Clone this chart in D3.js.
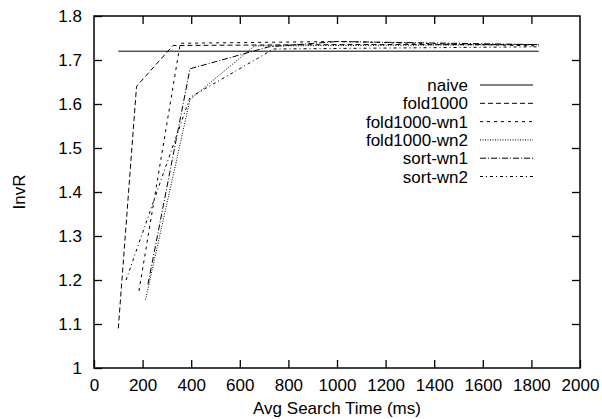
<!DOCTYPE html>
<html>
<head>
<meta charset="utf-8">
<script src="https://cdn.jsdelivr.net/npm/d3@7/dist/d3.min.js"></script>
<style>
  body { margin: 0; background: #fff; }
  text { font-family: "Liberation Sans", Arial, sans-serif; fill: #000; }
</style>
</head>
<body>
<div id="plotSect"></div>
<script>
// data (x = avg search time in ms, y = InvR)
let seriesNames = ["naive", "fold1000", "fold1000-wn1", "fold1000-wn2", "sort-wn1", "sort-wn2"];
let naive = [[100, 1.72], [1830, 1.72]];
let fold1000 = [[100, 1.09], [175, 1.64], [325, 1.733], [1000, 1.735], [1830, 1.735]];
let fold1000wn1 = [[185, 1.175], [355, 1.738], [1000, 1.742], [1830, 1.732]];
let fold1000wn2 = [[212, 1.155], [395, 1.61], [660, 1.732], [1830, 1.735]];
let sortwn1 = [[222, 1.19], [395, 1.68], [720, 1.73], [1000, 1.742], [1830, 1.735]];
let sortwn2 = [[132, 1.2], [395, 1.615], [740, 1.725], [1830, 1.73]];
let seriesData = [naive, fold1000, fold1000wn1, fold1000wn2, sortwn1, sortwn2];
let dashes = ["none", "5,3", "3,4", "1,1.5", "6,2,1,2", "3,3,1,3"];
let xTicks = [0, 200, 400, 600, 800, 1000, 1200, 1400, 1600, 1800, 2000];
let yTicks = [1, 1.1, 1.2, 1.3, 1.4, 1.5, 1.6, 1.7, 1.8];

let SVGwidth = 602,
    SVGheight = 419,
    margin = {top: 16, right: 22, bottom: 51, left: 94},
    width = SVGwidth - margin.left - margin.right,
    height = SVGheight - margin.top - margin.bottom;

let svg = d3.select("#plotSect").append("svg")
    .attr("width", SVGwidth)
    .attr("height", SVGheight)
    .append("g")
    .attr("transform", "translate(" + margin.left + "," + margin.top + ")");

let xScale = d3.scaleLinear().domain([0, 2000]).range([0, width]);
let yScale = d3.scaleLinear().domain([1, 1.8]).range([height, 0]);

let tickLen = 8;

// axes: labelled bottom/left, mirror ticks top/right, all ticks inward
svg.append("g")
    .attr("class", "xAxis")
    .attr("transform", "translate(0," + height + ")")
    .call(d3.axisBottom(xScale).tickValues(xTicks).tickSizeInner(-tickLen).tickSizeOuter(0).tickPadding(11).tickFormat(d3.format("d")));

svg.append("g")
    .attr("class", "yAxis")
    .call(d3.axisLeft(yScale).tickValues(yTicks).tickSizeInner(-tickLen).tickSizeOuter(0).tickPadding(12).tickFormat(function(d) { return d === 1 ? "1" : d3.format(".1f")(d); }));

svg.append("g")
    .attr("class", "xAxis2")
    .call(d3.axisTop(xScale).tickValues(xTicks.slice(1, -1)).tickSizeInner(-tickLen).tickSizeOuter(0).tickFormat(""));

svg.append("g")
    .attr("class", "yAxis2")
    .attr("transform", "translate(" + width + ",0)")
    .call(d3.axisRight(yScale).tickValues(yTicks.slice(1, -1)).tickSizeInner(-tickLen).tickSizeOuter(0).tickFormat(""));

svg.selectAll(".domain").remove();
svg.selectAll(".tick line").attr("stroke", "#000").attr("stroke-width", 1.3);
svg.selectAll(".tick text").style("font-size", "17px").style("font-family", "'Liberation Sans', Arial, sans-serif");

svg.append("rect")
    .attr("x", 0)
    .attr("y", 0)
    .attr("width", width)
    .attr("height", height)
    .attr("fill", "none")
    .attr("stroke", "#000")
    .attr("stroke-width", 1.5);

svg.append("text")
    .attr("x", width / 2)
    .attr("y", height + 46)
    .style("text-anchor", "middle")
    .style("font-size", "17px")
    .text("Avg Search Time (ms)");

svg.append("text")
    .attr("transform", "rotate(-90)")
    .attr("x", -height / 2)
    .attr("y", 25 - margin.left)
    .style("text-anchor", "middle")
    .style("font-size", "17px")
    .text("InvR");

// series lines
let line = d3.line()
    .x(function(d) { return xScale(d[0]); })
    .y(function(d) { return yScale(d[1]); });

svg.selectAll(".series")
    .data(seriesData)
    .enter().append("path")
    .attr("class", "series")
    .attr("d", line)
    .attr("fill", "none")
    .attr("stroke", "#000")
    .attr("stroke-width", 1)
    .attr("stroke-dasharray", function(d, i) { return dashes[i]; });

// legend
let legendX = 374, legendY = 69, legendStep = 18.3;
let legend = svg.selectAll(".legend")
    .data(seriesNames)
    .enter().append("g")
    .attr("class", "legend")
    .attr("transform", function(d, i) { return "translate(" + legendX + "," + (legendY + i * legendStep) + ")"; });

legend.append("line")
    .attr("x1", 12)
    .attr("x2", 65)
    .attr("stroke", "#000")
    .attr("stroke-width", 1)
    .attr("stroke-dasharray", function(d, i) { return dashes[i]; });

legend.append("text")
    .attr("x", 0)
    .attr("dy", "0.36em")
    .style("text-anchor", "end")
    .style("font-size", "17px")
    .text(function(d) { return d; });
</script>
</body>
</html>
